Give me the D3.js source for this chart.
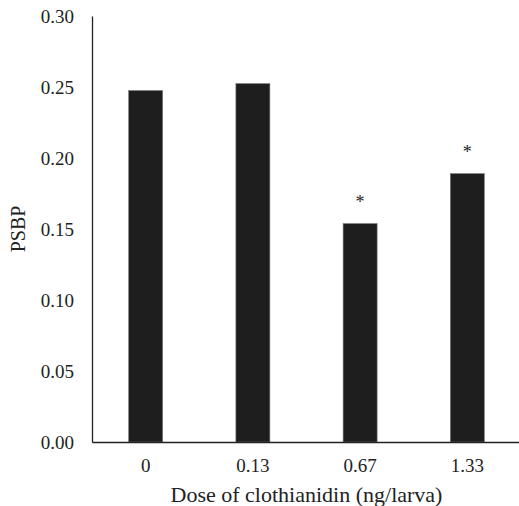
<!DOCTYPE html>
<html>
<head>
<meta charset="utf-8">
<script src="https://cdn.jsdelivr.net/npm/d3@7"></script>
<style>
  body { margin: 0; background: #fff; }
</style>
</head>
<body>
<div id="chart"></div>
<script>
// data
const doses = ["0", "0.13", "0.67", "1.33"];
const psbp = [0.2475, 0.2524, 0.1538, 0.189];
const significant = [false, false, true, true];
const yTicks = [0, 0.05, 0.10, 0.15, 0.20, 0.25, 0.30];

const width = 519, height = 506;
const margin = { top: 16, right: -2, bottom: 64, left: 92 };
const serif = "'Liberation Serif', 'Times New Roman', Times, serif";

const svg = d3.select("#chart").append("svg")
  .attr("width", width)
  .attr("height", height)
  .attr("font-family", serif);

const x = d3.scaleBand()
  .domain(doses)
  .range([margin.left, width - margin.right])
  .paddingInner(0.683)
  .paddingOuter(0.342);

const y = d3.scaleLinear()
  .domain([0, 0.30])
  .range([height - margin.bottom, margin.top]);

// bars
svg.selectAll("rect.bar")
  .data(doses)
  .enter().append("rect")
  .attr("class", "bar")
  .attr("x", d => x(d))
  .attr("width", x.bandwidth())
  .attr("y", (d, i) => y(psbp[i]))
  .attr("height", (d, i) => y(0) - y(psbp[i]))
  .attr("fill", "#1e1e1e")
  .attr("stroke", "#777")
  .attr("stroke-width", 0.6);

// significance stars
svg.selectAll("text.star")
  .data(doses.filter((d, i) => significant[i]))
  .enter().append("text")
  .attr("class", "star")
  .attr("x", d => x(d) + x.bandwidth() / 2)
  .attr("y", d => y(psbp[doses.indexOf(d)]) - 16)
  .attr("text-anchor", "middle")
  .attr("fill", "#222")
  .style("font-family", serif)
  .style("font-size", "18px")
  .text("*");

// y axis
const yAxis = svg.append("g")
  .attr("transform", `translate(${margin.left},0)`)
  .call(d3.axisLeft(y).tickValues(yTicks).tickFormat(d3.format(".2f")).tickSize(0).tickPadding(18))
  .attr("font-family", serif);
yAxis.select(".domain").attr("stroke", "#222").attr("stroke-width", 1.3);
yAxis.selectAll("text").style("font-family", serif).style("font-size", "19px").attr("fill", "#222");

// x axis
const xAxis = svg.append("g")
  .attr("transform", `translate(0,${y(0)})`)
  .call(d3.axisBottom(x).tickSize(0).tickPadding(17))
  .attr("font-family", serif);
xAxis.select(".domain").attr("stroke", "#222").attr("stroke-width", 1.3);
xAxis.selectAll("text").style("font-family", serif).style("font-size", "19px").attr("fill", "#222");

// axis titles
svg.append("text")
  .attr("x", (margin.left + width - margin.right) / 2)
  .attr("y", 502)
  .attr("text-anchor", "middle")
  .attr("fill", "#222")
  .style("font-family", serif)
  .style("font-size", "22px")
  .text("Dose of clothianidin (ng/larva)");

svg.append("text")
  .attr("transform", `translate(25,${(y(0) + y(0.30)) / 2}) rotate(-90)`)
  .attr("text-anchor", "middle")
  .attr("fill", "#222")
  .style("font-family", serif)
  .style("font-size", "20px")
  .text("PSBP");
</script>
</body>
</html>
